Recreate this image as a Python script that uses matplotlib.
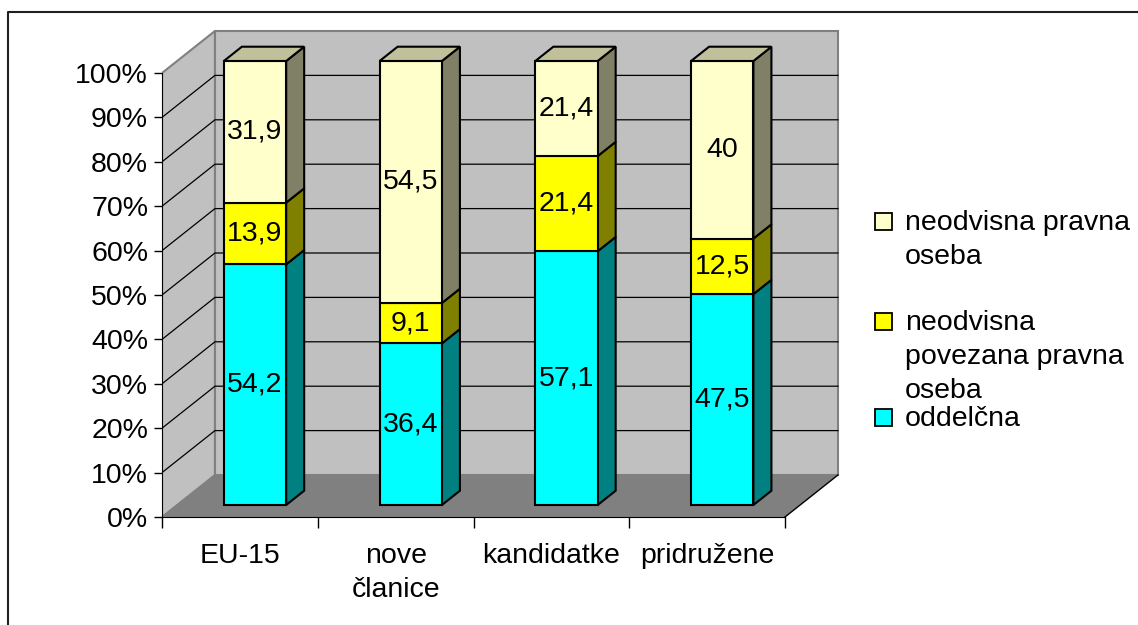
import matplotlib
matplotlib.use("Agg")
import matplotlib.pyplot as plt
from matplotlib.patches import Polygon, Rectangle
from matplotlib.lines import Line2D

plt.rcParams['font.family'] = ['Liberation Sans', 'DejaVu Sans']

# ---- data -------------------------------------------------------------
categories = ["EU-15", "nove\nčlanice", "kandidatke", "pridružene"]
oddelcna = [54.2, 36.4, 57.1, 47.5]
povezana = [13.9, 9.1, 21.4, 12.5]
neodvisna = [31.9, 54.5, 21.4, 40.0]
series_names = ["oddelčna", "neodvisna povezana pravna oseba", "neodvisna pravna oseba"]
legend_labels = ["neodvisna pravna\noseba", "neodvisna\npovezana pravna\noseba", "oddelčna"]
y_ticks = list(range(0, 101, 10))

# ---- styling ----------------------------------------------------------
front_cols = ["#00FFFF", "#FFFF00", "#FFFFCC"]
side_cols = ["#008080", "#808000", "#808066"]
top_cols = ["#00C0C0", "#C0C000", "#C0C09A"]
WALL = "#C0C0C0"
FLOOR = "#808080"
EDGE_GRAY = "#808080"
FS = 20.5

W, H = 1138, 625
fig = plt.figure(figsize=(W / 100, H / 100), dpi=100)

# oblique depth offset in data units (categories, percent)
DX, DY = 0.34, 9.46
D0, D1 = 0.286, 0.626      # bar front / back depth
BAR_W = 0.4

px_cat, px_pct = 155.75, 4.44
xmax, ymax = 4.45, 111
ax = fig.add_axes([162 / W, (H - 517) / H, xmax * px_cat / W, ymax * px_pct / H])
ax.set_xlim(0, xmax)
ax.set_ylim(0, ymax)
ax.patch.set_visible(False)


def P(x, y, d):
    return (x + d * DX, y + d * DY)


ncat = len(categories)

# walls and floor
side_wall = [P(0, 0, 0), P(0, 0, 1), P(0, 100, 1), P(0, 100, 0)]
back_wall = [P(0, 0, 1), P(ncat, 0, 1), P(ncat, 100, 1), P(0, 100, 1)]
floor = [P(0, 0, 0), P(ncat, 0, 0), P(ncat, 0, 1), P(0, 0, 1)]
ax.add_patch(Polygon(side_wall, closed=True, facecolor=WALL, edgecolor=EDGE_GRAY, lw=1.5, zorder=1))
ax.add_patch(Polygon(back_wall, closed=True, facecolor=WALL, edgecolor=EDGE_GRAY, lw=1.5, zorder=1))
ax.add_patch(Polygon(floor, closed=True, facecolor=FLOOR, edgecolor="none", zorder=1.1))
# floor right edge
fx, fy = zip(P(ncat, 0, 0), P(ncat, 0, 1))
ax.add_line(Line2D(fx, fy, color="black", lw=1.0, zorder=1.2))

# gridlines on walls
for v in y_ticks[1:-1]:
    xs, ys = zip(P(0, v, 0), P(0, v, 1), P(ncat, v, 1))
    ax.add_line(Line2D(xs, ys, color="black", lw=0.9, zorder=1.3))

# stacked bars (normalised to 100 %)
stack = [oddelcna, povezana, neodvisna]
for i in range(ncat):
    total = sum(s[i] for s in stack)
    base = 0.0
    xl = i + 0.5 - BAR_W / 2
    xr = i + 0.5 + BAR_W / 2
    for k, s in enumerate(stack):
        top = base + s[i] / total * 100
        front = [P(xl, base, D0), P(xr, base, D0), P(xr, top, D0), P(xl, top, D0)]
        side = [P(xr, base, D0), P(xr, base, D1), P(xr, top, D1), P(xr, top, D0)]
        ax.add_patch(Polygon(side, closed=True, facecolor=side_cols[k], edgecolor="black",
                             lw=1.5, joinstyle="miter", zorder=3))
        ax.add_patch(Polygon(front, closed=True, facecolor=front_cols[k], edgecolor="black",
                             lw=1.5, joinstyle="miter", zorder=3))
        if k == len(stack) - 1:
            lid = [P(xl, top, D0), P(xr, top, D0), P(xr, top, D1), P(xl, top, D1)]
            ax.add_patch(Polygon(lid, closed=True, facecolor=top_cols[k], edgecolor="black",
                                 lw=1.5, joinstyle="miter", zorder=3))
        lx, ly = P(i + 0.5, (base + top) / 2, D0)
        ax.text(lx, ly, f"{s[i]:g}".replace(".", ","), ha="center", va="center",
                fontsize=FS, zorder=4)
        base = top

# axes
for side in ("top", "right"):
    ax.spines[side].set_visible(False)
ax.spines["left"].set_bounds(0, 100)
ax.spines["bottom"].set_bounds(0, ncat)
ax.spines["left"].set_zorder(2.5)
ax.spines["bottom"].set_zorder(2.5)
ax.set_yticks(y_ticks)
ax.set_yticklabels([f"{v}%" for v in y_ticks])
ax.tick_params(axis="y", length=6, width=1, labelsize=FS, pad=4)
ax.set_xticks(range(ncat + 1))
ax.set_xticklabels([])
ax.tick_params(axis="x", which="major", length=8, width=1)
ax.set_xticks([i + 0.5 for i in range(ncat)], minor=True)
ax.set_xticklabels(categories, minor=True, fontsize=FS, linespacing=1.38)
ax.tick_params(axis="x", which="minor", length=0, pad=19)

# legend
entries = [(2, 213), (1, 313), (0, 409)]
for (k, ytop), lab in zip(entries, legend_labels):
    fig.patches.append(Rectangle((875 / W, 1 - (ytop + 17) / H), 17 / W, 17 / H,
                                 transform=fig.transFigure, facecolor=front_cols[k],
                                 edgecolor="black", lw=1.3))
    fig.text(905 / W, 1 - (ytop - 3) / H, lab, fontsize=FS, ha="left", va="top",
             linespacing=1.41)

# frame
fig.add_artist(Line2D([8 / W, 8 / W, 1], [0, 1 - 12 / H, 1 - 12 / H],
                      transform=fig.transFigure, color="#202020", lw=1.5))

fig.savefig("out.png", dpi=100)
